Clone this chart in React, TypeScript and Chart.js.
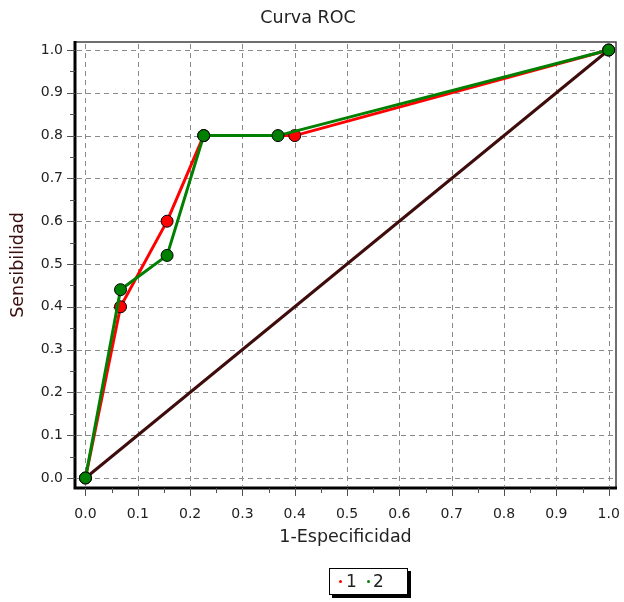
import React, { useEffect, useRef } from "react";
import { Chart, registerables } from "chart.js";

Chart.register(...registerables);

const tickValues = [0, 0.1, 0.2, 0.3, 0.4, 0.5, 0.6, 0.7, 0.8, 0.9, 1.0];
const minorValues = [0.05, 0.15, 0.25, 0.35, 0.45, 0.55, 0.65, 0.75, 0.85, 0.95];
const series1X = [0, 0.067, 0.156, 0.226, 0.4, 1];
const series1Y = [0, 0.4, 0.6, 0.8, 0.8, 1];
const series2X = [0, 0.067, 0.156, 0.226, 0.368, 1];
const series2Y = [0, 0.44, 0.52, 0.8, 0.8, 1];
const diagonalX = [0, 1];
const diagonalY = [0, 1];
const seriesLabels = ["1", "2"];

const FONT = "'DejaVu Sans', sans-serif";

const framePlugin = {
  id: "framePlugin",
  beforeDatasetsDraw(chart: any) {
    const { ctx, chartArea, scales } = chart;
    const xs = scales.x;
    const ys = scales.y;
    const { left, right, top, bottom } = chartArea;
    ctx.save();
    ctx.strokeStyle = "#8a8a8a";
    ctx.lineWidth = 1;
    ctx.setLineDash([5, 4]);
    tickValues.forEach((v) => {
      const px = Math.round(xs.getPixelForValue(v)) + 0.5;
      ctx.beginPath();
      ctx.moveTo(px, top + 2);
      ctx.lineTo(px, bottom - 2);
      ctx.stroke();
      const py = Math.round(ys.getPixelForValue(v)) + 0.5;
      ctx.beginPath();
      ctx.moveTo(left + 2, py);
      ctx.lineTo(right - 2, py);
      ctx.stroke();
    });
    ctx.setLineDash([]);
    ctx.strokeStyle = "#404040";
    ctx.lineWidth = 1.5;
    ctx.strokeRect(left, top, right - left, bottom - top);
    ctx.strokeStyle = "#000";
    ctx.lineWidth = 3;
    ctx.beginPath();
    ctx.moveTo(left, top - 1);
    ctx.lineTo(left, bottom);
    ctx.lineTo(right + 1, bottom);
    ctx.stroke();
    ctx.strokeStyle = "#505050";
    ctx.lineWidth = 1;
    tickValues.forEach((v) => {
      const px = Math.round(xs.getPixelForValue(v)) + 0.5;
      ctx.beginPath();
      ctx.moveTo(px, bottom);
      ctx.lineTo(px, bottom + 8);
      ctx.stroke();
      const py = Math.round(ys.getPixelForValue(v)) + 0.5;
      ctx.beginPath();
      ctx.moveTo(left - 8, py);
      ctx.lineTo(left, py);
      ctx.stroke();
    });
    minorValues.forEach((v) => {
      const px = Math.round(xs.getPixelForValue(v)) + 0.5;
      ctx.beginPath();
      ctx.moveTo(px, bottom);
      ctx.lineTo(px, bottom + 5);
      ctx.stroke();
      const py = Math.round(ys.getPixelForValue(v)) + 0.5;
      ctx.beginPath();
      ctx.moveTo(left - 5, py);
      ctx.lineTo(left, py);
      ctx.stroke();
    });
    ctx.restore();
  },
};

function toPoints(xs: number[], ys: number[]) {
  return xs.map((x, i) => ({ x, y: ys[i] }));
}

export default function App() {
  const canvasRef = useRef<HTMLCanvasElement | null>(null);

  useEffect(() => {
    const canvas = canvasRef.current;
    if (!canvas) return;
    const chart = new Chart(canvas, {
      type: "line",
      data: {
        datasets: [
          {
            label: "diagonal",
            data: toPoints(diagonalX, diagonalY),
            borderColor: "#3f0c0c",
            borderWidth: 3,
            pointRadius: 0,
            order: 3,
          },
          {
            label: seriesLabels[0],
            data: toPoints(series1X, series1Y),
            borderColor: "#ff0000",
            backgroundColor: "#ff0000",
            borderWidth: 3,
            pointRadius: 6,
            pointBorderWidth: 1,
            pointBorderColor: "#000",
            pointBackgroundColor: "#ff0000",
            order: 2,
          },
          {
            label: seriesLabels[1],
            data: toPoints(series2X, series2Y),
            borderColor: "#008000",
            backgroundColor: "#008000",
            borderWidth: 3,
            pointRadius: 6,
            pointBorderWidth: 1,
            pointBorderColor: "#000",
            pointBackgroundColor: "#008000",
            order: 1,
          },
        ],
      },
      options: {
        animation: false,
        responsive: false,
        maintainAspectRatio: false,
        layout: { padding: { left: 0, right: 8, top: 0, bottom: 42 } },
        plugins: {
          legend: { display: false },
          tooltip: { enabled: false },
          title: {
            display: true,
            text: "Curva ROC",
            color: "#222",
            font: { family: FONT, size: 17.5, weight: "normal", lineHeight: 1.2 },
            padding: { top: 7.5, bottom: 13.5 },
          },
        },
        scales: {
          x: {
            type: "linear",
            min: -0.02,
            max: 1.014,
            grid: { display: false, drawTicks: false },
            border: { display: false },
            afterBuildTicks: (scale: any) => {
              scale.ticks = tickValues.map((v) => ({ value: v }));
            },
            afterFit: (scale: any) => {
              scale.height = 72;
              scale.paddingLeft = 0;
              scale.paddingRight = 0;
            },
            ticks: {
              autoSkip: false,
              maxRotation: 0,
              padding: 18,
              color: "#222",
              font: { family: FONT, size: 14 },
              callback: (v: any) => Number(v).toFixed(1),
            },
            title: {
              display: true,
              text: "1-Especificidad",
              color: "#222",
              font: { family: FONT, size: 17.5, lineHeight: 1.2 },
              padding: { top: 0, bottom: 12.5 },
            },
          },
          y: {
            type: "linear",
            min: -0.0234,
            max: 1.0187,
            grid: { display: false, drawTicks: false },
            border: { display: false },
            afterBuildTicks: (scale: any) => {
              scale.ticks = tickValues.map((v) => ({ value: v }));
            },
            afterFit: (scale: any) => {
              scale.width = 75;
              scale.paddingTop = 0;
              scale.paddingBottom = 0;
            },
            ticks: {
              autoSkip: false,
              padding: 12,
              color: "#222",
              font: { family: FONT, size: 14 },
              callback: (v: any) => Number(v).toFixed(1),
            },
            title: {
              display: true,
              text: "Sensibilidad",
              color: "#3a1010",
              font: { family: FONT, size: 17.5, lineHeight: 1.2 },
              padding: { top: 7.5, bottom: 0 },
            },
          },
        },
      },
      plugins: [framePlugin],
    });
    return () => chart.destroy();
  }, []);

  return (
    <div style={{ position: "absolute", left: 0, top: 0, width: 624, height: 602, background: "#fff" }}>
      <canvas ref={canvasRef} width={624} height={602} style={{ display: "block" }} />
      <div
        style={{
          position: "absolute",
          left: 329,
          top: 568,
          width: 77,
          height: 25,
          border: "1px solid #000",
          boxShadow: "3px 3px 0 #000",
          background: "#fff",
          fontFamily: FONT,
          fontSize: 17,
          color: "#222",
        }}
      >
        <span style={{ position: "absolute", left: 9, top: 11, width: 3, height: 3, borderRadius: 2, background: "#ff0000" }} />
        <span style={{ position: "absolute", left: 16, top: 1, lineHeight: "22px" }}>{seriesLabels[0]}</span>
        <span style={{ position: "absolute", left: 37, top: 11, width: 3, height: 3, borderRadius: 2, background: "#008000" }} />
        <span style={{ position: "absolute", left: 43, top: 1, lineHeight: "22px" }}>{seriesLabels[1]}</span>
      </div>
    </div>
  );
}
